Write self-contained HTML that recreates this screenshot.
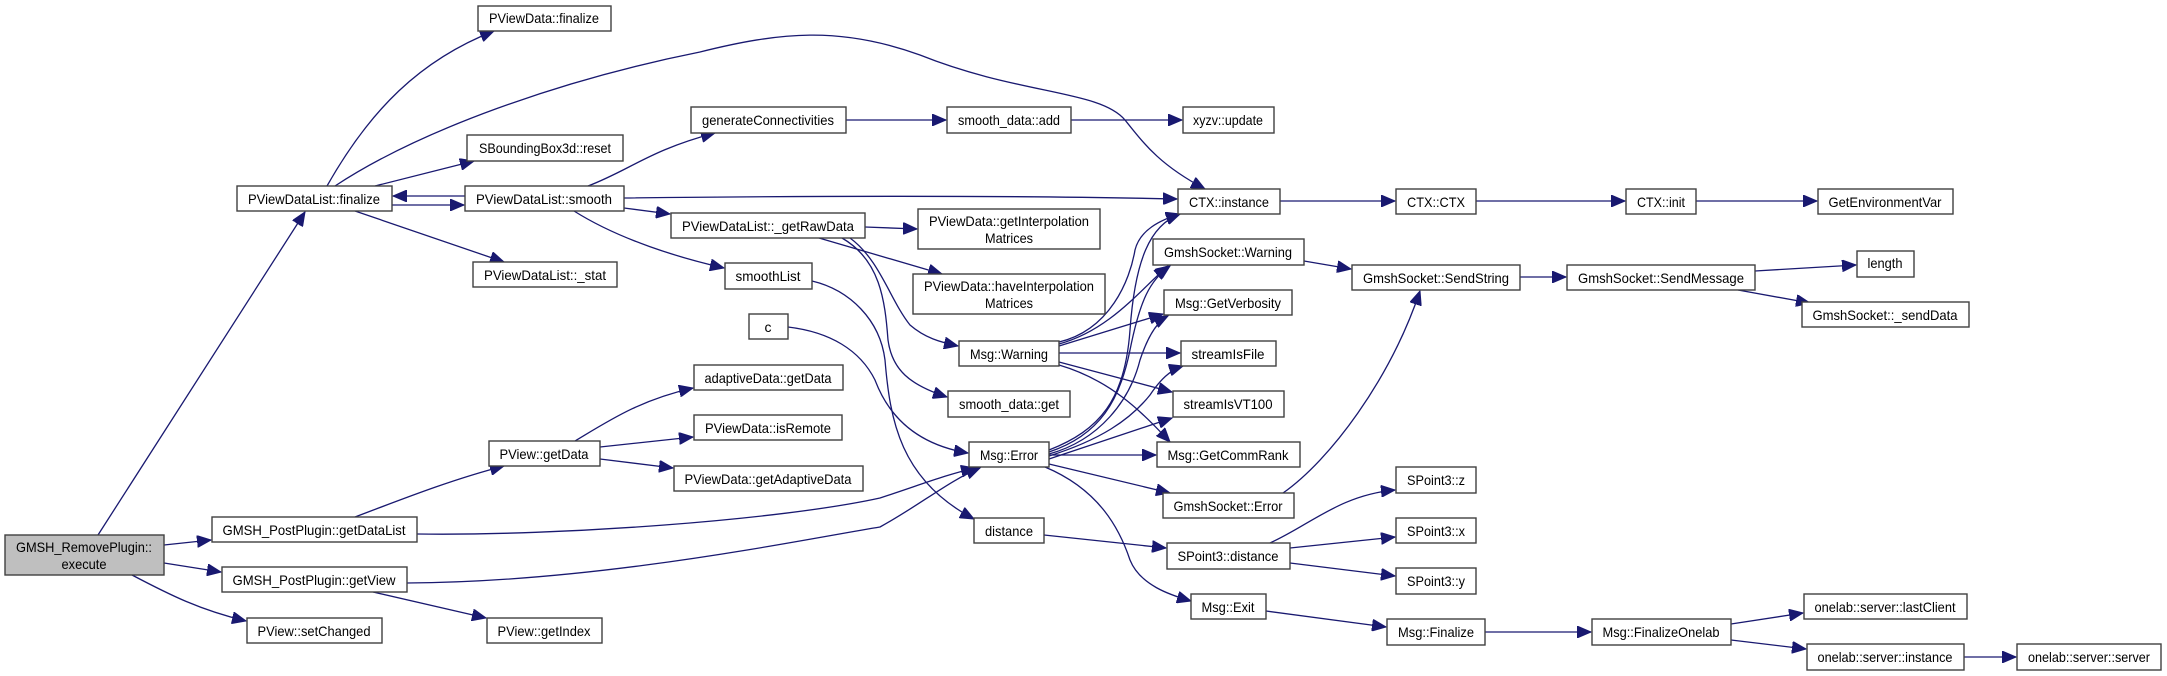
<!DOCTYPE html>
<html><head><meta charset="utf-8"><style>
html,body{margin:0;padding:0;background:#fff;}
svg{display:block;}
text{font-family:"Liberation Sans",sans-serif;font-size:14px;fill:#000;text-anchor:middle;}
rect{fill:#fff;stroke:#404040;stroke-width:1.4;}
path{fill:none;stroke:#191970;stroke-width:1.3;}
</style></head><body>
<svg width="2167" height="676" viewBox="0 0 2167 676" xmlns="http://www.w3.org/2000/svg">
<defs><marker id="a" markerUnits="userSpaceOnUse" markerWidth="16" markerHeight="12" refX="14" refY="6" orient="auto"><path d="M0,0 L14,6 L0,12 Z" style="fill:#191970;stroke:#191970;stroke-width:1"/></marker></defs>
<g marker-end="url(#a)">
<path d="M98,535 L305,212"/>
<path d="M164,545 L211,540"/>
<path d="M164,563 L221,572"/>
<path d="M132,575 C170,595 200,610 246,621"/>
<path d="M327,186 C370,110 420,60 494,31"/>
<path d="M335,186 C420,130 560,80 700,52 C780,32 840,26 920,55 C1020,95 1100,90 1125,120 C1145,145 1160,165 1205,189"/>
<path d="M375,186 L474,161"/>
<path d="M392,205 L464,205"/>
<path d="M465,196 L393,196"/>
<path d="M355,211 L504,262"/>
<path d="M588,186 C630,170 650,150 715,133"/>
<path d="M624,198 C800,196 1000,195 1177,199"/>
<path d="M624,208 L670,214"/>
<path d="M574,211 C620,240 680,258 724,268"/>
<path d="M788,327 C830,332 860,350 875,380 C890,420 920,445 968,453"/>
<path d="M812,281 C850,290 880,320 885,360 C890,420 900,480 974,519"/>
<path d="M842,238 C880,260 885,300 888,340 C892,370 910,385 947,397"/>
<path d="M850,238 C880,260 890,300 910,325 C925,338 940,342 958,346"/>
<path d="M865,227 L917,229"/>
<path d="M819,238 L942,274"/>
<path d="M846,120 L946,120"/>
<path d="M1071,120 L1182,120"/>
<path d="M1280,201 L1395,201"/>
<path d="M1476,201 L1625,201"/>
<path d="M1696,201 L1817,201"/>
<path d="M1304,261 L1351,269"/>
<path d="M1520,277 L1566,277"/>
<path d="M1755,271 L1856,265"/>
<path d="M1738,290 L1810,303"/>
<path d="M1283,493 C1330,460 1390,380 1420,291"/>
<path d="M1059,344 C1110,330 1140,290 1168,266"/>
<path d="M1059,342 C1110,330 1130,280 1135,250 C1140,230 1160,220 1180,214"/>
<path d="M1059,346 L1163,314"/>
<path d="M1059,353 L1180,353"/>
<path d="M1059,362 L1172,392"/>
<path d="M1059,365 C1110,380 1140,410 1170,442"/>
<path d="M1049,450 C1100,430 1125,400 1130,330 C1135,260 1150,225 1180,214"/>
<path d="M1049,452 C1100,435 1120,400 1130,350 C1140,300 1150,280 1170,266"/>
<path d="M1049,454 C1100,440 1130,400 1140,360 C1150,330 1160,320 1168,316"/>
<path d="M1049,456 C1100,440 1130,420 1150,395 C1160,380 1170,370 1183,366"/>
<path d="M1049,459 L1172,418"/>
<path d="M1049,455 L1156,455"/>
<path d="M1049,464 L1170,493"/>
<path d="M1045,467 C1100,490 1120,530 1130,560 C1140,585 1170,595 1191,601"/>
<path d="M1044,535 L1166,548"/>
<path d="M1270,543 C1310,525 1340,495 1395,490"/>
<path d="M1290,548 L1395,537"/>
<path d="M1290,563 L1395,576"/>
<path d="M1266,611 L1386,627"/>
<path d="M1485,632 L1591,632"/>
<path d="M1731,624 L1803,613"/>
<path d="M1731,640 L1806,649"/>
<path d="M1964,657 L2016,657"/>
<path d="M355,517 C400,500 450,480 504,466"/>
<path d="M417,534 C560,536 780,520 880,498 C920,485 945,475 975,468"/>
<path d="M407,583 C600,582 800,540 880,527 C920,505 950,480 980,468"/>
<path d="M373,592 L486,618"/>
<path d="M575,441 C610,420 640,400 693,388"/>
<path d="M600,447 L693,437"/>
<path d="M600,459 L673,468"/>
</g>
<g>
<rect x="5" y="535" width="159" height="40" style="fill:#bfbfbf"/><text x="84" y="552" textLength="136" lengthAdjust="spacingAndGlyphs">GMSH_RemovePlugin::</text><text x="84" y="569" textLength="45" lengthAdjust="spacingAndGlyphs">execute</text>
<rect x="478" y="6" width="133" height="25"/><text x="544" y="23" textLength="110" lengthAdjust="spacingAndGlyphs">PViewData::finalize</text>
<rect x="467" y="135" width="156" height="26"/><text x="545" y="153" textLength="132" lengthAdjust="spacingAndGlyphs">SBoundingBox3d::reset</text>
<rect x="237" y="186" width="155" height="25"/><text x="314" y="204" textLength="132" lengthAdjust="spacingAndGlyphs">PViewDataList::finalize</text>
<rect x="465" y="186" width="159" height="25"/><text x="544" y="204" textLength="136" lengthAdjust="spacingAndGlyphs">PViewDataList::smooth</text>
<rect x="473" y="262" width="144" height="25"/><text x="545" y="280" textLength="122" lengthAdjust="spacingAndGlyphs">PViewDataList::_stat</text>
<rect x="691" y="107" width="155" height="26"/><text x="768" y="125" textLength="132" lengthAdjust="spacingAndGlyphs">generateConnectivities</text>
<rect x="947" y="107" width="124" height="26"/><text x="1009" y="125" textLength="102" lengthAdjust="spacingAndGlyphs">smooth_data::add</text>
<rect x="1183" y="107" width="91" height="26"/><text x="1228" y="125" textLength="70" lengthAdjust="spacingAndGlyphs">xyzv::update</text>
<rect x="1178" y="189" width="102" height="25"/><text x="1229" y="207" textLength="80" lengthAdjust="spacingAndGlyphs">CTX::instance</text>
<rect x="671" y="213" width="194" height="25"/><text x="768" y="231" textLength="172" lengthAdjust="spacingAndGlyphs">PViewDataList::_getRawData</text>
<rect x="918" y="209" width="182" height="40"/><text x="1009" y="226" textLength="160" lengthAdjust="spacingAndGlyphs">PViewData::getInterpolation</text><text x="1009" y="243" textLength="48" lengthAdjust="spacingAndGlyphs">Matrices</text>
<rect x="725" y="263" width="87" height="26"/><text x="768" y="281" textLength="65" lengthAdjust="spacingAndGlyphs">smoothList</text>
<rect x="913" y="274" width="192" height="40"/><text x="1009" y="291" textLength="170" lengthAdjust="spacingAndGlyphs">PViewData::haveInterpolation</text><text x="1009" y="308" textLength="48" lengthAdjust="spacingAndGlyphs">Matrices</text>
<rect x="1153" y="239" width="151" height="26"/><text x="1228" y="257" textLength="128" lengthAdjust="spacingAndGlyphs">GmshSocket::Warning</text>
<rect x="1164" y="290" width="128" height="25"/><text x="1228" y="308" textLength="106" lengthAdjust="spacingAndGlyphs">Msg::GetVerbosity</text>
<rect x="749" y="314" width="39" height="25"/><text x="768" y="332">c</text>
<rect x="1396" y="189" width="80" height="25"/><text x="1436" y="207" textLength="58" lengthAdjust="spacingAndGlyphs">CTX::CTX</text>
<rect x="1626" y="189" width="70" height="25"/><text x="1661" y="207" textLength="48" lengthAdjust="spacingAndGlyphs">CTX::init</text>
<rect x="1818" y="189" width="135" height="25"/><text x="1885" y="207" textLength="113" lengthAdjust="spacingAndGlyphs">GetEnvironmentVar</text>
<rect x="1352" y="265" width="168" height="25"/><text x="1436" y="283" textLength="146" lengthAdjust="spacingAndGlyphs">GmshSocket::SendString</text>
<rect x="1567" y="265" width="188" height="25"/><text x="1661" y="283" textLength="166" lengthAdjust="spacingAndGlyphs">GmshSocket::SendMessage</text>
<rect x="1857" y="251" width="57" height="26"/><text x="1885" y="268" textLength="35" lengthAdjust="spacingAndGlyphs">length</text>
<rect x="1802" y="302" width="167" height="25"/><text x="1885" y="320" textLength="145" lengthAdjust="spacingAndGlyphs">GmshSocket::_sendData</text>
<rect x="212" y="517" width="205" height="25"/><text x="314" y="535" textLength="183" lengthAdjust="spacingAndGlyphs">GMSH_PostPlugin::getDataList</text>
<rect x="222" y="567" width="185" height="25"/><text x="314" y="585" textLength="163" lengthAdjust="spacingAndGlyphs">GMSH_PostPlugin::getView</text>
<rect x="247" y="618" width="135" height="25"/><text x="314" y="636" textLength="113" lengthAdjust="spacingAndGlyphs">PView::setChanged</text>
<rect x="489" y="441" width="111" height="25"/><text x="544" y="459" textLength="89" lengthAdjust="spacingAndGlyphs">PView::getData</text>
<rect x="487" y="618" width="115" height="25"/><text x="544" y="636" textLength="93" lengthAdjust="spacingAndGlyphs">PView::getIndex</text>
<rect x="694" y="365" width="149" height="25"/><text x="768" y="383" textLength="127" lengthAdjust="spacingAndGlyphs">adaptiveData::getData</text>
<rect x="694" y="415" width="148" height="25"/><text x="768" y="433" textLength="126" lengthAdjust="spacingAndGlyphs">PViewData::isRemote</text>
<rect x="674" y="466" width="189" height="25"/><text x="768" y="484" textLength="167" lengthAdjust="spacingAndGlyphs">PViewData::getAdaptiveData</text>
<rect x="959" y="341" width="100" height="25"/><text x="1009" y="359" textLength="78" lengthAdjust="spacingAndGlyphs">Msg::Warning</text>
<rect x="1181" y="341" width="95" height="25"/><text x="1228" y="359" textLength="73" lengthAdjust="spacingAndGlyphs">streamIsFile</text>
<rect x="948" y="391" width="122" height="26"/><text x="1009" y="409" textLength="100" lengthAdjust="spacingAndGlyphs">smooth_data::get</text>
<rect x="1173" y="391" width="111" height="26"/><text x="1228" y="409" textLength="89" lengthAdjust="spacingAndGlyphs">streamIsVT100</text>
<rect x="969" y="442" width="80" height="25"/><text x="1009" y="460" textLength="58" lengthAdjust="spacingAndGlyphs">Msg::Error</text>
<rect x="1157" y="442" width="143" height="25"/><text x="1228" y="460" textLength="121" lengthAdjust="spacingAndGlyphs">Msg::GetCommRank</text>
<rect x="1163" y="493" width="131" height="25"/><text x="1228" y="511" textLength="109" lengthAdjust="spacingAndGlyphs">GmshSocket::Error</text>
<rect x="974" y="518" width="70" height="25"/><text x="1009" y="536" textLength="48" lengthAdjust="spacingAndGlyphs">distance</text>
<rect x="1167" y="543" width="123" height="26"/><text x="1228" y="561" textLength="101" lengthAdjust="spacingAndGlyphs">SPoint3::distance</text>
<rect x="1191" y="594" width="75" height="25"/><text x="1228" y="612" textLength="53" lengthAdjust="spacingAndGlyphs">Msg::Exit</text>
<rect x="1396" y="467" width="80" height="26"/><text x="1436" y="485" textLength="58" lengthAdjust="spacingAndGlyphs">SPoint3::z</text>
<rect x="1396" y="518" width="80" height="25"/><text x="1436" y="536" textLength="58" lengthAdjust="spacingAndGlyphs">SPoint3::x</text>
<rect x="1396" y="568" width="80" height="26"/><text x="1436" y="586" textLength="58" lengthAdjust="spacingAndGlyphs">SPoint3::y</text>
<rect x="1387" y="619" width="98" height="26"/><text x="1436" y="637" textLength="76" lengthAdjust="spacingAndGlyphs">Msg::Finalize</text>
<rect x="1592" y="619" width="139" height="26"/><text x="1661" y="637" textLength="117" lengthAdjust="spacingAndGlyphs">Msg::FinalizeOnelab</text>
<rect x="1804" y="594" width="163" height="25"/><text x="1885" y="612" textLength="141" lengthAdjust="spacingAndGlyphs">onelab::server::lastClient</text>
<rect x="1807" y="644" width="157" height="26"/><text x="1885" y="662" textLength="135" lengthAdjust="spacingAndGlyphs">onelab::server::instance</text>
<rect x="2017" y="644" width="144" height="26"/><text x="2089" y="662" textLength="122" lengthAdjust="spacingAndGlyphs">onelab::server::server</text>
</g>
</svg>
</body></html>
